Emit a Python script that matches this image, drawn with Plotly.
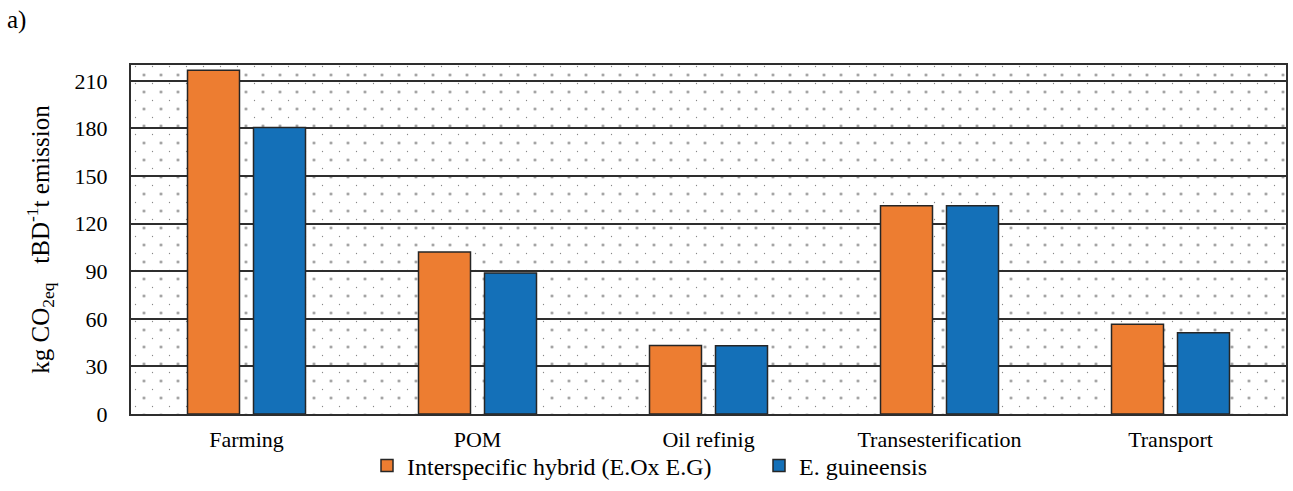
import plotly.graph_objects as go

# ---- data ----
categories = ["Farming", "POM", "Oil refinig", "Transesterification", "Transport"]
hybrid = [216.7, 102.1, 43.2, 131.3, 56.6]
guineensis = [180.6, 88.9, 43.0, 131.3, 51.2]
y_tick_values = [0, 30, 60, 90, 120, 150, 180, 210]
series_names = ["Interspecific hybrid (E.Ox E.G)", "E. guineensis"]
series_colors = ["#ED7D31", "#1470B8"]

# ---- page geometry (pixels) ----
W, H = 1293, 491
M_L, M_R, M_T, M_B = 20, 7, 30, 77
PLOT_L, PLOT_R, PLOT_T, PLOT_B = 131, 1286, 65, 414
PW = W - M_L - M_R
PH = H - M_T - M_B
AREA_W = PLOT_R - PLOT_L
AREA_H = PLOT_B - PLOT_T

FONT = "Liberation Serif"
LINE = "#2e2e2e"


def xfrac(px):
    return (px - M_L) / PW


def yfrac(py):
    return (H - M_B - py) / PH


fig = go.Figure()

# Dotted background: two staggered dot lattices, each on its own hidden
# subplot so the tile origins are offset by half a tile.
dot_layers = [
    # (axis suffix, x offset, y offset, dot colour, solidity, fill)
    ("", 12.5, 15.5, "#000000", 0.019, "white"),
    ("2", 4.0, 7.0, "#111111", 0.0045, "rgba(0,0,0,0)"),
]
layout_axes = {}
for suffix, ox, oy, dot_color, solidity, fill in dot_layers:
    fig.add_trace(go.Scatter(
        x=[0, 1, 1, 0, 0], y=[0, 0, 1, 1, 0],
        xaxis="x" + suffix, yaxis="y" + suffix,
        mode="lines", line=dict(width=0),
        fill="toself", fillcolor=fill,
        fillpattern=dict(shape=".", size=17, solidity=solidity,
                         fgcolor=dot_color, bgcolor="rgba(0,0,0,0)",
                         fillmode="overlay"),
        hoverinfo="skip", showlegend=False,
    ))
    layout_axes["xaxis" + suffix] = dict(
        domain=[xfrac(PLOT_L - ox), xfrac(PLOT_R)],
        range=[-ox / AREA_W, 1], visible=False, fixedrange=True,
        anchor="y" + suffix,
    )
    layout_axes["yaxis" + suffix] = dict(
        domain=[0, yfrac(PLOT_T - oy)],
        range=[0, 1 + oy / AREA_H], visible=False, fixedrange=True,
        anchor="x" + suffix,
    )

# Bars
for name, values, color in zip(series_names, [hybrid, guineensis], series_colors):
    fig.add_trace(go.Bar(
        x=categories, y=values, name=name,
        xaxis="x3", yaxis="y3",
        marker=dict(color=color, line=dict(color="#262626", width=1.5)),
    ))

fig.update_layout(
    width=W, height=H,
    margin=dict(l=M_L, r=M_R, t=M_T, b=M_B, autoexpand=False),
    paper_bgcolor="white", plot_bgcolor="rgba(0,0,0,0)",
    font=dict(family=FONT, color="#000000", size=22),
    barmode="group", bargap=0.4286, bargroupgap=0.212,
    hovermode=False,
    xaxis3=dict(
        domain=[xfrac(PLOT_L), xfrac(PLOT_R)], anchor="y3",
        type="category", categoryorder="array", categoryarray=categories,
        showline=True, linecolor=LINE, linewidth=2, mirror=True,
        showgrid=False, ticks="", ticklabelstandoff=5,
        tickfont=dict(family=FONT, size=22, color="#000"),
    ),
    yaxis3=dict(
        domain=[0, yfrac(PLOT_T)], anchor="x3",
        range=[0, 220], tickmode="array", tickvals=y_tick_values,
        showline=True, linecolor=LINE, linewidth=2, mirror=True,
        showgrid=True, gridcolor=LINE, gridwidth=2, zeroline=False,
        ticks="", ticklabelstandoff=17,
        tickfont=dict(family=FONT, size=22, color="#000"),
        title=dict(text="kg CO<sub>2eq</sub>   tBD<sup>-1</sup>t emission",
                   font=dict(family=FONT, size=25, color="#000"), standoff=18),
    ),
    legend=dict(
        orientation="h", x=xfrac(367), xanchor="left",
        y=yfrac(466), yanchor="middle",
        entrywidth=347, entrywidthmode="pixels",
        font=dict(family=FONT, size=24, color="#000"),
        bgcolor="rgba(0,0,0,0)", traceorder="normal",
    ),
    annotations=[dict(
        text="a)", xref="paper", yref="paper",
        x=xfrac(5), y=yfrac(20), xanchor="left", yanchor="middle",
        showarrow=False, font=dict(family=FONT, size=25, color="#000"),
    )],
    **layout_axes,
)

fig.write_html("out.html")
